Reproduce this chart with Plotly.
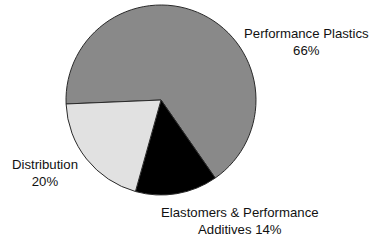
import plotly.graph_objects as go

segments = ["Performance Plastics", "Elastomers & Performance Additives", "Distribution"]
shares = [66, 14, 20]
label_text = ["Performance Plastics<br>66%", "Elastomers & Performance<br>Additives 14%", "Distribution<br>20%"]
colors = ["#898989", "#000000", "#e1e1e1"]

W, H = 377, 240
cx, cy, r = 161, 100, 95

fig = go.Figure(go.Pie(
    labels=segments, values=shares, sort=False, direction="clockwise",
    rotation=-92.4, textinfo="none", hoverinfo="label+percent",
    marker=dict(colors=colors, line=dict(color="#2a2a2a", width=1)),
    domain=dict(x=[(cx - r) / W, (cx + r) / W], y=[(H - cy - r) / H, (H - cy + r) / H]),
    showlegend=False,
))

label_pos = [(306, 42), (240, 221), (45, 173)]
for txt, (x, y) in zip(label_text, label_pos):
    fig.add_annotation(x=x / W, y=1 - y / H, xref="paper", yref="paper", text=txt,
                       showarrow=False, xanchor="center", yanchor="middle", align="center",
                       font=dict(family="Liberation Sans, Arial, sans-serif", size=13.2, color="#111111"))

fig.update_layout(width=W, height=H, margin=dict(l=0, r=0, t=0, b=0),
                  paper_bgcolor="white", plot_bgcolor="white")
fig.write_html("out.html", config={"displayModeBar": False},
               post_script="document.body.style.margin='0';")
